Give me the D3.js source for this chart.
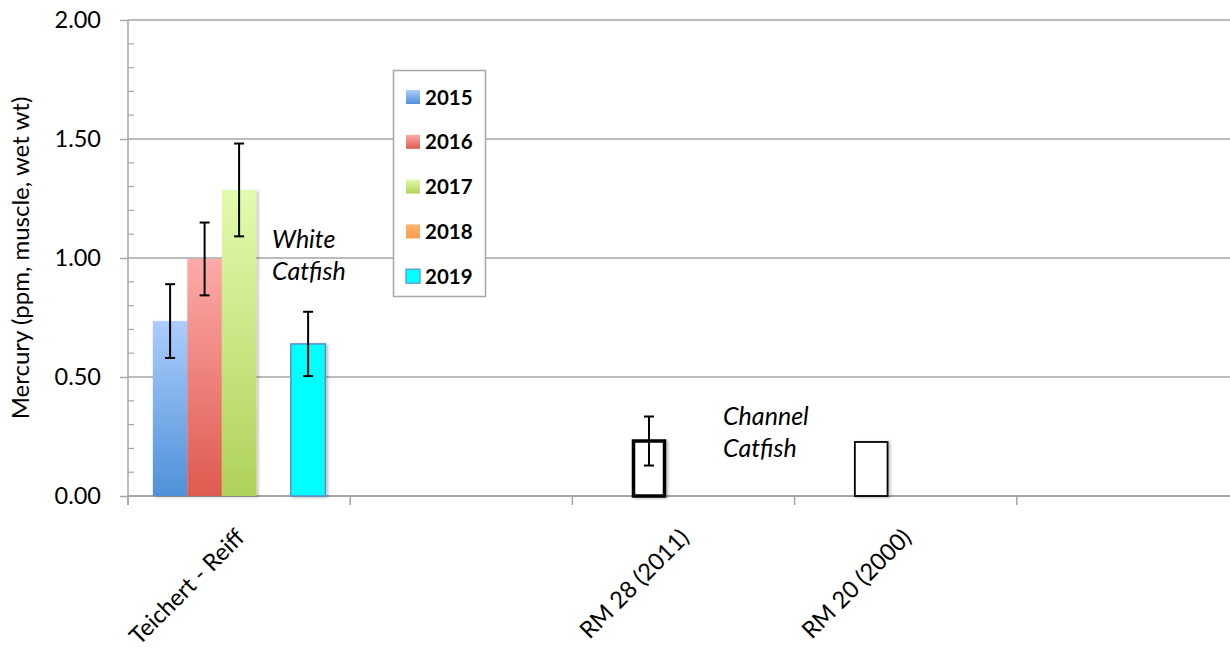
<!DOCTYPE html>
<html>
<head>
<meta charset="utf-8">
<script src="https://cdn.jsdelivr.net/npm/d3@7"></script>
<style>
  html, body { margin: 0; padding: 0; background: #fff; }
  svg { display: block; }
  text { font-family: Lato, "Open Sans", sans-serif; fill: #000; }
</style>
</head>
<body>
<svg id="chart" width="1230" height="650"></svg>
<script>
// Sites along the x axis (blank entries are empty slots on the axis)
const categories = ["Teichert - Reiff", "", "RM 28 (2011)", "RM 20 (2000)", ""];
// Sampling years for white catfish at Teichert - Reiff
const years = ["2015", "2016", "2017", "2018", "2019"];
const whiteCatfish = [0.735, 0.996, 1.286, null, 0.639];
const whiteCatfishErr = [0.155, 0.153, 0.195, null, 0.135];
// Historical channel catfish results
const channelSites = ["RM 28 (2011)", "RM 20 (2000)"];
const channelCatfish = [0.231, 0.227];
const channelErr = [0.103, null];
const yTicks = [0, 0.5, 1.0, 1.5, 2.0];

const yearColors = {
  "2015": ["#abcdfd", "#4f91d8"],
  "2016": ["#fdaaa8", "#de5a4f"],
  "2017": ["#e2fbae", "#afd25a"],
  "2018": ["#fdb46e", "#f79d4c"],
  "2019": ["#00ffff", "#00ffff"]
};

const svg = d3.select("#chart");
const margin = { left: 128, top: 20, bottom: 496 };

const y = d3.scaleLinear().domain([0, 2]).range([margin.bottom, margin.top]);
const x0 = d3.scaleBand().domain(d3.range(categories.length)).range([128, 1239]).padding(0);
const x1 = d3.scaleBand().domain(years).range([0, x0.bandwidth()]).paddingInner(0).paddingOuter(0.72);

const defs = svg.append("defs");
years.forEach(yr => {
  const g = defs.append("linearGradient").attr("id", "grad" + yr)
    .attr("x1", 0).attr("y1", 0).attr("x2", 0).attr("y2", 1);
  g.append("stop").attr("offset", "0%").attr("stop-color", yearColors[yr][0]);
  g.append("stop").attr("offset", "100%").attr("stop-color", yearColors[yr][1]);
});
const sh = defs.append("filter").attr("id", "shadow")
  .attr("x", "-20%").attr("y", "-10%").attr("width", "150%").attr("height", "120%");
sh.append("feDropShadow").attr("dx", 2).attr("dy", 1).attr("stdDeviation", 1.5)
  .attr("flood-color", "#000").attr("flood-opacity", 0.25);

// Horizontal gridlines
svg.append("g").selectAll("line").data(yTicks.filter(d => d > 0)).join("line")
  .attr("x1", 128).attr("x2", 1230)
  .attr("y1", d => y(d)).attr("y2", d => y(d))
  .attr("stroke", "#a6a6a6").attr("stroke-width", 1.5);

// Y axis
const yAxis = svg.append("g").attr("transform", "translate(128,0)")
  .call(d3.axisLeft(y).tickValues(yTicks).tickFormat(d3.format(".2f")).tickSize(8).tickPadding(19));
yAxis.select(".domain").attr("stroke", "#a6a6a6").attr("stroke-width", 1.5)
  .attr("d", `M0,${margin.top}V${margin.bottom + 9}`);
yAxis.selectAll(".tick line").attr("stroke", "#a6a6a6").attr("stroke-width", 1.5);
yAxis.selectAll(".tick text").style("font-size", "23.5px").style("font-family", "Lato, 'Open Sans', sans-serif");

// Minor ticks
svg.append("g").selectAll("line").data(d3.range(0, 2.01, 0.1).filter(v => Math.abs(v * 2 - Math.round(v * 2)) > 1e-6))
  .join("line")
  .attr("x1", 128).attr("x2", 134)
  .attr("y1", d => y(d)).attr("y2", d => y(d))
  .attr("stroke", "#a6a6a6").attr("stroke-width", 1.2);

// Y axis title
svg.append("text")
  .attr("transform", `translate(29,${(margin.top + margin.bottom) / 2}) rotate(-90)`)
  .attr("text-anchor", "middle")
  .style("font-size", "24px")
  .text("Mercury (ppm, muscle, wet wt)");

// X axis
const xAxis = svg.append("g").attr("transform", `translate(0,${margin.bottom})`);
xAxis.append("line").attr("x1", 128).attr("x2", 1230).attr("y1", 0).attr("y2", 0)
  .attr("stroke", "#a6a6a6").attr("stroke-width", 2);
xAxis.selectAll("line.tk").data(d3.range(categories.length + 1)).join("line").attr("class", "tk")
  .attr("x1", i => 128 + i * x0.step()).attr("x2", i => 128 + i * x0.step())
  .attr("y1", 0).attr("y2", 9)
  .attr("stroke", "#a6a6a6").attr("stroke-width", 1.5);
xAxis.selectAll("text").data(d3.range(categories.length)).join("text")
  .attr("text-anchor", "end")
  .attr("transform", i => `translate(${x0(i) + x0.bandwidth() / 2 + 7},${43}) rotate(-45)`)
  .style("font-size", "23.5px")
  .text(i => categories[i]);

// White catfish bars
const wc = years.map((yr, i) => ({ yr, v: whiteCatfish[i], e: whiteCatfishErr[i] })).filter(d => d.v != null);
const gx = x0(0);
svg.append("g").selectAll("rect").data(wc).join("rect")
  .attr("x", d => gx + x1(d.yr))
  .attr("y", d => y(d.v))
  .attr("width", x1.bandwidth())
  .attr("height", d => y(0) - y(d.v))
  .attr("fill", d => `url(#grad${d.yr})`)
  .attr("stroke", d => d.yr === "2019" ? "#5a8fc9" : "none")
  .attr("stroke-width", d => d.yr === "2019" ? 1.5 : 0)
  .attr("filter", "url(#shadow)");

// Channel catfish bars (outlined)
const cc = channelSites.map((s, i) => ({ site: s, v: channelCatfish[i], e: channelErr[i], idx: categories.indexOf(s), w: i === 0 ? 3.5 : 1.8 }));
svg.append("g").selectAll("rect").data(cc).join("rect")
  .attr("x", d => x0(d.idx) + x1("2016") + d.w / 2)
  .attr("y", d => y(d.v))
  .attr("width", d => x1.bandwidth() - d.w)
  .attr("height", d => y(0) - y(d.v))
  .attr("fill", "#fff")
  .attr("stroke", "#000")
  .attr("stroke-width", d => d.w)
  .attr("filter", "url(#shadow)");

// Error bars
const errs = wc.filter(d => d.e != null).map(d => ({ cx: gx + x1(d.yr) + x1.bandwidth() / 2, v: d.v, e: d.e }))
  .concat(cc.filter(d => d.e != null).map(d => ({ cx: x0(d.idx) + x1("2016") + x1.bandwidth() / 2, v: d.v, e: d.e })));
const eg = svg.append("g").attr("stroke", "#000").attr("stroke-width", 2);
errs.forEach(d => {
  eg.append("line").attr("x1", d.cx).attr("x2", d.cx).attr("y1", y(d.v + d.e)).attr("y2", y(d.v - d.e));
  eg.append("line").attr("x1", d.cx - 5).attr("x2", d.cx + 5).attr("y1", y(d.v + d.e)).attr("y2", y(d.v + d.e));
  eg.append("line").attr("x1", d.cx - 5).attr("x2", d.cx + 5).attr("y1", y(d.v - d.e)).attr("y2", y(d.v - d.e));
});

// Species annotations
function note(x, yTop, lines) {
  const t = svg.append("text").attr("x", x).attr("y", yTop)
    .style("font-size", "25px").style("font-style", "italic");
  lines.forEach((l, i) => t.append("tspan").attr("x", x).attr("dy", i === 0 ? 0 : 32).text(l));
}
note(272, 248, ["White", "Catfish"]);
note(723, 425, ["Channel", "Catfish"]);

// Legend
const lg = svg.append("g");
lg.append("rect").attr("x", 393.5).attr("y", 70.5).attr("width", 92).attr("height", 226)
  .attr("fill", "#fff").attr("stroke", "#a6a6a6").attr("stroke-width", 1.5);
years.forEach((yr, i) => {
  const cy = 97 + i * 44.8;
  lg.append("rect").attr("x", 406).attr("y", cy - 7).attr("width", 14).attr("height", 14)
    .attr("fill", `url(#grad${yr})`)
    .attr("stroke", yr === "2019" ? "#5a8fc9" : "none").attr("stroke-width", 1.2);
  lg.append("text").attr("x", 425).attr("y", cy + 7.5)
    .style("font-size", "20.5px").style("font-weight", "bold").text(yr);
});
</script>
</body>
</html>
